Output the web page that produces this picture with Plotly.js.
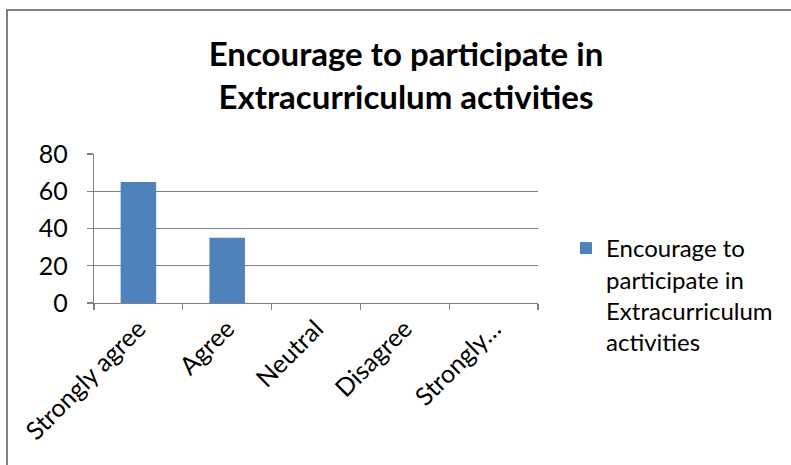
<!DOCTYPE html>
<html>
<head>
<meta charset="utf-8">
<script src="https://cdn.plot.ly/plotly-3.0.1.min.js"></script>
<style>
html,body{margin:0;padding:0;background:#fff;}
#chart{width:791px;height:465px;}
</style>
</head>
<body>
<div id="chart"></div>
<script>
const categories = ["Strongly agree", "Agree", "Neutral", "Disagree", "Strongly disagree"];
const tickLabels = ["Strongly agree", "Agree", "Neutral", "Disagree", "Strongly…"];
const values = [65, 35, 0, 0, 0];
const seriesName = "Encourage to<br>participate in<br>Extracurriculum<br>activities";
const titleText = "Encourage to participate in<br>Extracurriculum activities";
const yTicks = [0, 20, 40, 60, 80];

const FONT = "Lato, 'Open Sans', sans-serif";
const W = 791, H = 465;
const L = 94, R = 538, T = 154, B = 303;
const px = x => (x - L) / (R - L);
const py = y => (B - y) / (B - T);

const trace = {
  type: "bar",
  x: categories,
  y: values,
  name: seriesName,
  marker: {color: "#4f81bd"},
  showlegend: true
};

const layout = {
  width: W, height: H,
  margin: {l: L, r: W - R, t: T, b: H - B, pad: 0},
  paper_bgcolor: "#ffffff",
  plot_bgcolor: "#ffffff",
  bargap: 0.6,
  showlegend: true,
  font: {family: FONT, color: "#000000", size: 25},
  title: {
    text: titleText,
    font: {family: FONT, size: 33, color: "#000000", weight: "bold"},
    x: 406 / W, xanchor: "center", xref: "container",
    y: 1 - 66 / H, yanchor: "top", yref: "container"
  },
  xaxis: {
    type: "category",
    tickvals: categories,
    ticktext: tickLabels,
    tickangle: -45,
    showgrid: false,
    showline: true,
    linecolor: "#808080",
    linewidth: 1.3,
    ticks: "outside",
    ticklen: 6,
    tickcolor: "#808080",
    tickwidth: 1.3,
    tickson: "boundaries",
    tickfont: {family: FONT, size: 25, color: "#000"},
    zeroline: false,
    fixedrange: true
  },
  yaxis: {
    range: [0, 80],
    tickvals: yTicks,
    showgrid: true,
    gridcolor: "#808080",
    gridwidth: 1.3,
    showline: true,
    linecolor: "#808080",
    linewidth: 1.3,
    ticks: "outside",
    ticklen: 6,
    tickcolor: "#808080",
    tickwidth: 1.3,
    ticklabelstandoff: 14,
    tickfont: {family: FONT, size: 25, color: "#000"},
    zeroline: false,
    fixedrange: true
  },
  legend: {
    x: px(566), xanchor: "left",
    y: py(226), yanchor: "top",
    valign: "top",
    font: {family: FONT, size: 24, color: "#000"},
    bgcolor: "rgba(0,0,0,0)",
    borderwidth: 0
  },
  shapes: [
    {type: "line", xref: "paper", yref: "paper", x0: px(7), x1: px(7), y0: py(470), y1: py(9),
     line: {color: "#808080", width: 2}},
    {type: "line", xref: "paper", yref: "paper", x0: px(6), x1: px(800), y0: py(10), y1: py(10),
     line: {color: "#808080", width: 2}}
  ]
};

Plotly.newPlot("chart", [trace], layout, {displayModeBar: false, staticPlot: true});
</script>
</body>
</html>
